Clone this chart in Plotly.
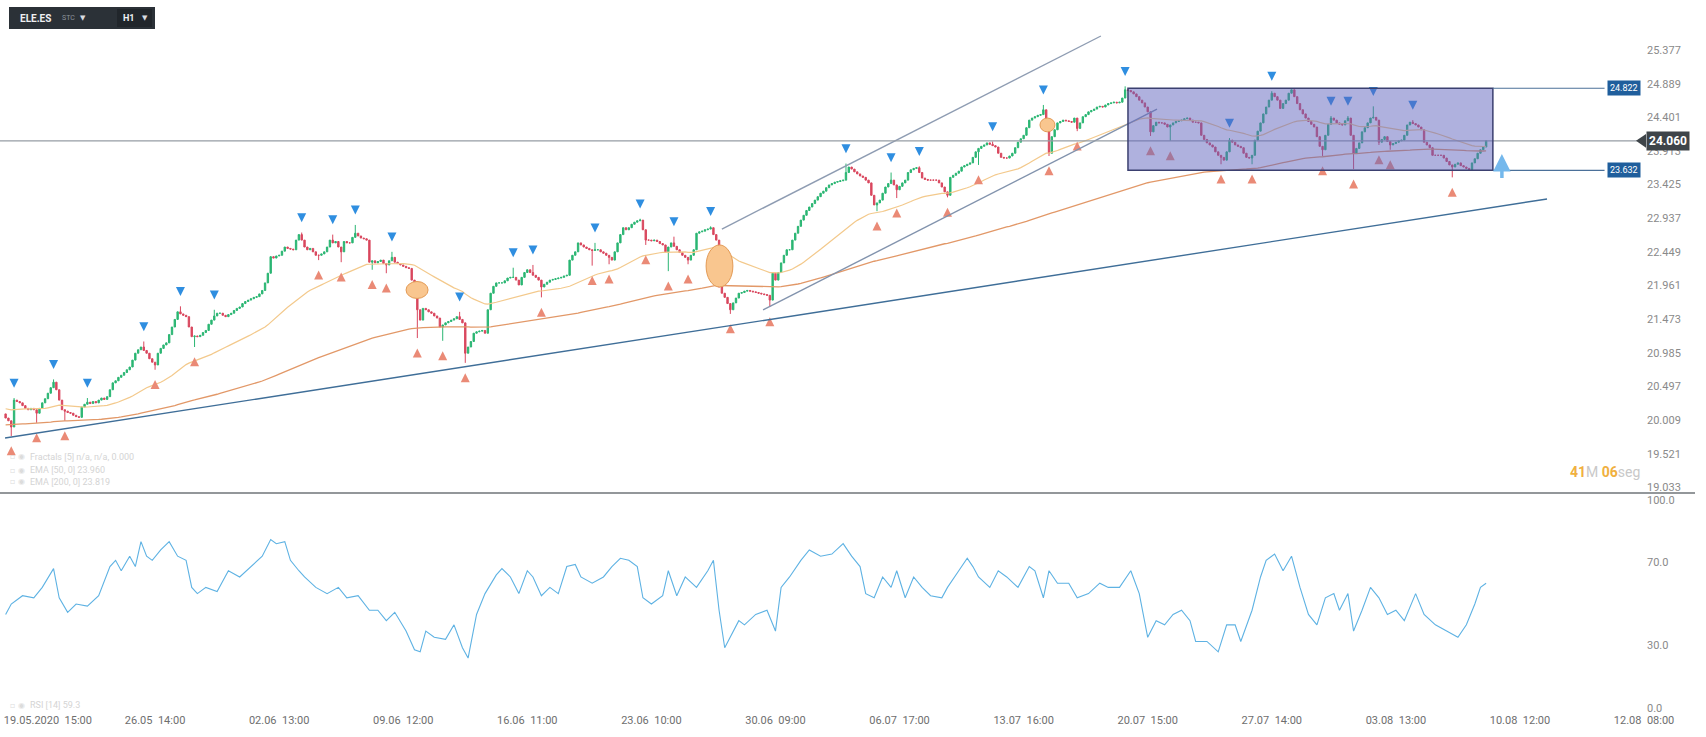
import numpy as np
import plotly.graph_objects as go

# ---------------- data ----------------
close = [
 20.04, 20.00, 19.91, 20.30, 20.28, 20.26, 20.22, 20.18, 20.16, 20.18,
 20.16, 20.11, 20.18, 20.26, 20.32, 20.40, 20.48, 20.56, 20.45, 20.30,
 20.16, 20.14, 20.12, 20.11, 20.08, 20.06, 20.05, 20.20, 20.24, 20.27,
 20.25, 20.28, 20.26, 20.30, 20.33, 20.31, 20.35, 20.45, 20.55, 20.58,
 20.63, 20.66, 20.70, 20.74, 20.78, 20.88, 20.98, 21.03, 21.07, 21.02,
 20.98, 20.90, 20.85, 20.81, 20.98, 21.05, 21.10, 21.13, 21.25, 21.36,
 21.47, 21.58, 21.55, 21.53, 21.51, 21.36, 21.22, 21.23, 21.22, 21.24,
 21.28, 21.31, 21.40, 21.46, 21.52, 21.56, 21.56, 21.53, 21.51, 21.54,
 21.56, 21.60, 21.63, 21.65, 21.70, 21.73, 21.75, 21.77, 21.79, 21.80,
 21.84, 21.89, 22.00, 22.14, 22.38, 22.36, 22.39, 22.40, 22.46, 22.52,
 22.50, 22.49, 22.48, 22.62, 22.70, 22.62, 22.52, 22.48, 22.50, 22.45,
 22.40, 22.40, 22.42, 22.45, 22.52, 22.62, 22.58, 22.60, 22.52, 22.45,
 22.60, 22.58, 22.58, 22.66, 22.72, 22.68, 22.65, 22.64, 22.62, 22.30,
 22.32, 22.29, 22.31, 22.33, 22.28, 22.26, 22.32, 22.37, 22.30, 22.28,
 22.26, 22.24, 22.22, 22.21, 22.04, 22.01, 21.61, 21.46, 21.63, 21.61,
 21.58, 21.56, 21.52, 21.49, 21.36, 21.39, 21.42, 21.44, 21.46, 21.48,
 21.51, 21.47, 21.42, 20.98, 21.07, 21.15, 21.27, 21.29, 21.30, 21.31,
 21.27, 21.61, 21.85, 21.95, 22.00, 22.00, 22.00, 22.03, 22.07, 22.08,
 22.08, 22.04, 21.97, 22.08, 22.15, 22.19, 22.15, 22.11, 22.08, 22.04,
 21.94, 21.98, 22.01, 22.04, 22.05, 22.06, 22.07, 22.08, 22.10, 22.11,
 22.33, 22.40, 22.45, 22.58, 22.55, 22.52, 22.50, 22.48, 22.47, 22.48,
 22.48, 22.45, 22.43, 22.40, 22.37, 22.33, 22.45, 22.58, 22.70, 22.80,
 22.77, 22.80, 22.85, 22.88, 22.90, 22.91, 22.77, 22.62, 22.62, 22.61,
 22.62, 22.60, 22.57, 22.55, 22.45, 22.52, 22.58, 22.53, 22.48, 22.44,
 22.40, 22.37, 22.33, 22.40, 22.48, 22.72, 22.74, 22.75, 22.77, 22.78,
 22.80, 22.70, 22.62, 21.94, 21.85, 21.79, 21.70, 21.61, 21.71, 21.78,
 21.85, 21.86, 21.88, 21.89, 21.88, 21.87, 21.86, 21.85, 21.84, 21.83,
 21.82, 21.75, 22.14, 22.04, 22.15, 22.29, 22.40, 22.48, 22.48, 22.62,
 22.72, 22.82, 22.91, 22.98, 23.05, 23.10, 23.15, 23.20, 23.25, 23.30,
 23.33, 23.38, 23.42, 23.44, 23.46, 23.47, 23.48, 23.49, 23.60, 23.68,
 23.65, 23.61, 23.58, 23.55, 23.53, 23.49, 23.45, 23.27, 23.13, 23.16,
 23.20, 23.30, 23.39, 23.44, 23.49, 23.42, 23.35, 23.40, 23.45, 23.49,
 23.60, 23.64, 23.66, 23.67, 23.60, 23.52, 23.50, 23.49, 23.49, 23.49,
 23.49, 23.45, 23.39, 23.32, 23.27, 23.53, 23.56, 23.59, 23.62, 23.68,
 23.70, 23.72, 23.74, 23.82, 23.90, 23.95, 23.98, 24.00, 24.03, 24.01,
 23.99, 23.97, 23.88, 23.82, 23.81, 23.81, 23.84, 23.88, 23.96, 24.04,
 24.09, 24.14, 24.25, 24.36, 24.39, 24.41, 24.43, 24.44, 24.51, 24.29,
 23.88, 24.12, 24.22, 24.32, 24.34, 24.36, 24.35, 24.34, 24.33, 24.39,
 24.24, 24.32, 24.41, 24.44, 24.48, 24.50, 24.52, 24.55, 24.56, 24.55,
 24.58, 24.60, 24.61, 24.62, 24.61, 24.62, 24.68, 24.80, 24.79, 24.77,
 24.74, 24.70, 24.65, 24.61, 24.55, 24.48, 24.19, 24.28, 24.33, 24.32,
 24.32, 24.30, 24.26, 24.29, 24.32, 24.34, 24.35, 24.36, 24.38, 24.39,
 24.36, 24.33, 24.33, 24.32, 24.14, 24.08, 24.03, 24.00, 23.97, 23.90,
 23.85, 23.82, 23.78, 23.90, 24.07, 24.04, 24.00, 23.98, 23.96, 23.88,
 23.82, 23.81, 23.85, 24.07, 24.20, 24.32, 24.45, 24.55, 24.65, 24.75,
 24.70, 24.65, 24.53, 24.60, 24.65, 24.75, 24.80, 24.70, 24.60, 24.51,
 24.45, 24.39, 24.34, 24.30, 24.26, 24.12, 23.98, 23.93, 24.14, 24.30,
 24.39, 24.36, 24.32, 24.30, 24.29, 24.35, 24.39, 24.14, 23.88, 23.95,
 24.03, 24.19, 24.25, 24.32, 24.39, 24.40, 24.36, 24.04, 24.08, 24.12,
 24.05, 24.00, 24.02, 24.04, 24.06, 24.07, 24.14, 24.29, 24.33, 24.31,
 24.29, 24.26, 24.22, 24.04, 24.00, 23.96, 23.85, 23.85, 23.85, 23.85,
 23.81, 23.76, 23.71, 23.68, 23.72, 23.74, 23.70, 23.68, 23.66, 23.64,
 23.74, 23.80, 23.88, 23.93, 23.97, 24.06,
]
first_open = 20.10

# fractal highs / lows (bar index, price)
up_idx = [3, 17, 29, 49, 62, 74, 105, 116, 124, 137, 161, 180, 187, 209, 225, 237, 250,
          298, 314, 324, 350, 368, 397, 434, 449, 470, 476, 485, 499]
up_val = [20.33, 20.60, 20.33, 21.15, 21.66, 21.61, 22.73, 22.70, 22.84, 22.45, 21.58, 22.22,
          22.26, 22.58, 22.93, 22.67, 22.82, 23.73, 23.60, 23.69, 24.05, 24.58, 24.85, 24.10,
          24.78, 24.42, 24.42, 24.56, 24.36]
dn_idx = [2, 11, 21, 53, 67, 111, 119, 130, 135, 146, 155, 163, 190, 208, 214, 227, 235, 242,
          257, 271, 309, 316, 334, 345, 370, 380, 406, 413, 431, 442, 467, 478, 487, 491, 513]
dn_val = [19.78, 19.97, 20.00, 20.74, 21.07, 22.33, 22.30, 22.19, 22.14, 21.20, 21.16, 20.84,
          21.79, 22.25, 22.27, 22.55, 22.17, 22.27, 21.55, 21.65, 23.04, 23.23, 23.24, 23.71,
          23.84, 24.20, 24.13, 24.06, 23.72, 23.72, 23.84, 23.65, 24.00, 23.93, 23.53]

ema50_seed = 20.18
ema200_seed = 19.94

# RSI(14) (bar index, value)
rsi_idx = [0, 2, 6, 10, 13, 17, 19, 22, 25, 29,
           33, 37, 39, 41, 44, 46, 48, 50, 52, 55,
           58, 61, 64, 66, 68, 71, 75, 79, 83, 87,
           91, 94, 96, 99, 101, 104, 106, 110, 114, 118,
           121, 125, 129, 132, 135, 138, 142, 145, 147, 149,
           152, 156, 159, 162, 164, 167, 170, 174, 176, 179,
           182, 185, 187, 190, 193, 196, 199, 202, 204, 208,
           212, 215, 218, 221, 224, 226, 229, 233, 235, 238,
           241, 245, 249, 251, 253, 255, 257, 260, 262, 266,
           270, 273, 275, 278, 282, 285, 289, 293, 297, 300,
           303, 305, 308, 311, 314, 316, 319, 322, 325, 328,
           332, 334, 338, 341, 343, 345, 349, 352, 355, 359,
           363, 365, 368, 370, 373, 377, 380, 384, 388, 391,
           395, 399, 402, 405, 408, 411, 414, 417, 420, 422,
           426, 430, 433, 436, 438, 442, 445, 447, 450, 453,
           456, 459, 462, 465, 468, 471, 473, 476, 478, 481,
           484, 487, 490, 493, 496, 500, 503, 507, 511, 515,
           518, 521, 523, 525]
rsi_val = [45, 50, 54, 53, 58, 67, 53, 46, 50, 49,
           54, 68, 71, 66, 73, 68, 80, 73, 71, 76,
           80, 73, 71, 58, 55, 58, 56, 66, 63, 68,
           73, 81, 79, 80, 71, 66, 63, 58, 55, 58,
           53, 54, 47, 47, 42, 46, 37, 28, 27, 37,
           34, 33, 40, 29, 24, 45, 55, 64, 67, 63,
           55, 66, 63, 54, 58, 55, 68, 69, 63, 60,
           63, 68, 72, 71, 68, 53, 50, 54, 66, 54,
           63, 58, 66, 71, 47, 29, 34, 42, 40, 45,
           47, 37, 58, 63, 71, 76, 73, 74, 79, 73,
           68, 55, 53, 63, 58, 66, 53, 63, 58, 54,
           53, 58, 66, 72, 68, 63, 58, 66, 63, 58,
           68, 66, 53, 66, 60, 60, 53, 55, 60, 58,
           58, 66, 55, 34, 42, 40, 45, 47, 42, 32,
           32, 27, 40, 40, 32, 47, 63, 71, 74, 66,
           73, 58, 45, 40, 53, 55, 47, 55, 37, 47,
           58, 53, 45, 47, 42, 55, 45, 40, 37, 34,
           40, 50, 58, 60]

price_ticks = [19.033, 19.521, 20.009, 20.497, 20.985, 21.473, 21.961, 22.449,
               22.937, 23.425, 23.913, 24.401, 24.889, 25.377]
rsi_ticks = [0, 30, 70, 100]
rsi_tick_text = ["0.0", "30.0", "70.0", "100.0"]
time_tick_idx = [15, 53, 97, 141, 185, 229, 273, 317, 361, 405, 449, 493, 537, 581]
time_tick_text = ["19.05.2020  15:00", "26.05  14:00", "02.06  13:00", "09.06  12:00",
                  "16.06  11:00", "23.06  10:00", "30.06  09:00", "06.07  17:00",
                  "13.07  16:00", "20.07  15:00", "27.07  14:00", "03.08  13:00",
                  "10.08  12:00", "12.08  08:00"]

last_price = 24.060
box_top, box_bottom = 24.822, 23.632
box_x = [398.0, 527.4]
support_line = ([-0.2, 546.6], [19.75, 23.217])
channel_upper = ([254.0, 388.4], [22.781, 25.58])
channel_lower = ([268.6, 408.3], [21.607, 24.52])
ellipses = [([142.0, 149.8], [21.774, 22.02]),
            ([248.4, 257.9], [21.94, 22.55]),
            ([366.8, 372.1], [24.19, 24.39])]
label_line_end = 567.0
arrow_x = 530.6
arrow_y = [23.50, 23.87]

# ---------------- derived ----------------
n = len(close)
xs = list(range(n))
opens = [first_open] + close[:-1]
highs = [max(o, c) for o, c in zip(opens, close)]
lows = [min(o, c) for o, c in zip(opens, close)]
for j, v in zip(up_idx, up_val):
    highs[j] = max(highs[j], v)
for j, v in zip(dn_idx, dn_val):
    lows[j] = min(lows[j], v)


def ema(vals, period, seed):
    a = 2.0 / (period + 1)
    out, e = [], seed
    for v in vals:
        e = a * v + (1 - a) * e
        out.append(e)
    return out


ema50 = ema(close, 50, ema50_seed)
ema200 = ema(close, 200, ema200_seed)

# ---------------- figure ----------------
W, H = 1706, 737
PLOT_R = 1646
main_dom = [(712 - 493) / 712, 1.0]
rsi_dom = [0.0, (712 - 495) / 712]
xr = [-1.99, 581.7]

fig = go.Figure()
fig.add_trace(go.Candlestick(
    x=xs, open=opens, high=highs, low=lows, close=close,
    increasing=dict(line=dict(color="#2bb673", width=1), fillcolor="#2bb673"),
    decreasing=dict(line=dict(color="#d9475e", width=1), fillcolor="#d9475e"),
    xaxis="x", yaxis="y", showlegend=False, hoverinfo="skip"))
fig.add_trace(go.Scatter(x=xs, y=ema50, mode="lines", line=dict(color="#f3c98c", width=1.2),
                         xaxis="x", yaxis="y", showlegend=False, hoverinfo="skip"))
fig.add_trace(go.Scatter(x=xs, y=ema200, mode="lines", line=dict(color="#e29868", width=1.3),
                         xaxis="x", yaxis="y", showlegend=False, hoverinfo="skip"))

off = 0.15
fig.add_trace(go.Scatter(x=up_idx, y=[highs[j] + off for j in up_idx], mode="markers",
                         marker=dict(symbol="arrow-down", size=9, color="#2f8ee0"),
                         xaxis="x", yaxis="y", showlegend=False, hoverinfo="skip"))
fig.add_trace(go.Scatter(x=dn_idx, y=[lows[j] - off for j in dn_idx], mode="markers",
                         marker=dict(symbol="arrow-up", size=9, color="#ea8a76"),
                         xaxis="x", yaxis="y", showlegend=False, hoverinfo="skip"))

fig.add_trace(go.Scatter(x=rsi_idx, y=rsi_val, mode="lines", line=dict(color="#5eb2e3", width=1.1),
                         xaxis="x2", yaxis="y2", showlegend=False, hoverinfo="skip"))

shapes = []
for (lx, ly), col in [(support_line, "#3f6e98"), (channel_upper, "#8e9cb2"), (channel_lower, "#8293ad")]:
    shapes.append(dict(type="line", xref="x", yref="y", x0=lx[0], x1=lx[1], y0=ly[0], y1=ly[1],
                       line=dict(color=col, width=1.4), layer="above"))
for (ex, ey) in ellipses:
    shapes.append(dict(type="circle", xref="x", yref="y", x0=ex[0], x1=ex[1], y0=ey[0], y1=ey[1],
                       fillcolor="#f9c68f", line=dict(color="#e39a55", width=1), layer="above"))
shapes.append(dict(type="line", xref="paper", yref="y", x0=0, x1=1642 / PLOT_R, y0=last_price, y1=last_price,
                   line=dict(color="#969da4", width=1.3), layer="above"))
shapes.append(dict(type="rect", xref="x", yref="y", x0=box_x[0], x1=box_x[1], y0=box_bottom, y1=box_top,
                   fillcolor="rgba(95,100,190,0.5)", line=dict(color="#3b4070", width=1.5), layer="above"))
for yv in (box_top, box_bottom):
    shapes.append(dict(type="line", xref="x", yref="y", x0=box_x[1], x1=label_line_end, y0=yv, y1=yv,
                       line=dict(color="#4b7099", width=1.2), layer="above"))
shapes.append(dict(type="line", xref="paper", yref="paper", x0=0, x1=1695 / PLOT_R,
                   y0=main_dom[0], y1=main_dom[0], line=dict(color="#6f7479", width=1.3)))
shapes.append(dict(type="path", xref="paper", yref="y",
                   path=f"M {1636 / PLOT_R},{last_price} L {1646 / PLOT_R},{last_price + 0.1} L {1646 / PLOT_R},{last_price - 0.1} Z",
                   fillcolor="#3e4449", line=dict(width=0)))
shapes.append(dict(type="rect", xref="paper", yref="paper", x0=9 / PLOT_R, x1=155 / PLOT_R,
                   y0=(712 - 29) / 712, y1=(712 - 7) / 712, fillcolor="#2b3137", line=dict(width=0)))
shapes.append(dict(type="rect", xref="paper", yref="paper", x0=117 / PLOT_R, x1=152 / PLOT_R,
                   y0=(712 - 27) / 712, y1=(712 - 9) / 712, fillcolor="#21262b", line=dict(width=0)))

ann = []
ann.append(dict(x=1646 / PLOT_R, y=last_price, xref="paper", yref="y", text="<b>24.060</b>", showarrow=False,
                xanchor="left", yanchor="middle", bgcolor="#3e4449", font=dict(color="white", size=12, family="Roboto"),
                borderpad=2))
for yv, txt in [(box_top, "24.822"), (box_bottom, "23.632")]:
    ann.append(dict(x=1624 / PLOT_R, y=yv, xref="paper", yref="y", text=txt, showarrow=False,
                    xanchor="center", yanchor="middle", bgcolor="#1f5e9c",
                    font=dict(color="white", size=9, family="Roboto"), borderpad=2))
ann.append(dict(x=arrow_x, y=arrow_y[1], ax=arrow_x, ay=arrow_y[0], xref="x", yref="y", axref="x", ayref="y",
                showarrow=True, arrowhead=2, arrowsize=1, arrowwidth=3.5, arrowcolor="#74b8ec", text=""))
ann.append(dict(x=1642 / PLOT_R, y=(712 - 472) / 712, xref="paper", yref="paper", showarrow=False,
                xanchor="right", yanchor="middle",
                text="<span style='color:#f0b040'><b>41</b></span><span style='color:#c8c8c8'>M </span>"
                     "<span style='color:#f0b040'><b>06</b></span><span style='color:#c8c8c8'>seg</span>",
                font=dict(size=14, family="Roboto")))
for yy, txt in [(457, "Fractals [5] n/a, n/a, 0.000"), (470, "EMA [50, 0] 23.960"), (482, "EMA [200, 0] 23.819"),
                (705, "RSI [14] 59.3")]:
    ann.append(dict(x=28 / PLOT_R, y=(712 - yy) / 712, xref="paper", yref="paper", text=txt, showarrow=False,
                    xanchor="left", yanchor="middle", font=dict(size=9, color="#d4d4d4", family="Roboto")))
    ann.append(dict(x=8 / PLOT_R, y=(712 - yy) / 712, xref="paper", yref="paper", text="▫ ◉", showarrow=False,
                    xanchor="left", yanchor="middle", font=dict(size=8, color="#dcdcdc", family="DejaVu Sans")))
ann.append(dict(x=18 / PLOT_R, y=(712 - 18) / 712, xref="paper", yref="paper", text="<b>ELE.ES</b>", showarrow=False,
                xanchor="left", yanchor="middle", font=dict(size=10, color="#eef0f2", family="Roboto")))
ann.append(dict(x=60 / PLOT_R, y=(712 - 18) / 712, xref="paper", yref="paper", text="STC", showarrow=False,
                xanchor="left", yanchor="middle", font=dict(size=7, color="#8b939b", family="Roboto")))
ann.append(dict(x=78 / PLOT_R, y=(712 - 18) / 712, xref="paper", yref="paper", text="▼", showarrow=False,
                xanchor="left", yanchor="middle", font=dict(size=7, color="#d8dce0", family="DejaVu Sans")))
ann.append(dict(x=121 / PLOT_R, y=(712 - 18) / 712, xref="paper", yref="paper", text="<b>H1</b>", showarrow=False,
                xanchor="left", yanchor="middle", font=dict(size=9, color="#eef0f2", family="Roboto")))
ann.append(dict(x=140 / PLOT_R, y=(712 - 18) / 712, xref="paper", yref="paper", text="▼", showarrow=False,
                xanchor="left", yanchor="middle", font=dict(size=7, color="#d8dce0", family="DejaVu Sans")))

fig.update_layout(
    width=W, height=H, margin=dict(l=0, r=W - PLOT_R, t=0, b=25),
    paper_bgcolor="white", plot_bgcolor="white",
    shapes=shapes, annotations=ann, showlegend=False,
    xaxis=dict(domain=[0, 1], range=xr, anchor="y", showgrid=False, zeroline=False, showticklabels=False,
               rangeslider=dict(visible=False), showline=False, fixedrange=True),
    xaxis2=dict(domain=[0, 1], range=xr, anchor="y2", showgrid=False, zeroline=False, showline=False,
                tickmode="array", tickvals=time_tick_idx,
                ticktext=[t.replace(" ", "\u00a0") for t in time_tick_text],
                tickfont=dict(size=11, color="#6e6e6e", family="Roboto"), ticks=""),
    yaxis=dict(domain=main_dom, range=[18.953, 26.102], side="right", showgrid=False, zeroline=False,
               tickmode="array", tickvals=price_ticks, ticktext=[f"{v:.3f}" for v in price_ticks],
               tickfont=dict(size=11, color="#8a8a8a", family="Roboto"), ticks="", anchor="x"),
    yaxis2=dict(domain=rsi_dom, range=[-1.9, 102.4], side="right", showgrid=False, zeroline=False,
                tickmode="array", tickvals=rsi_ticks, ticktext=rsi_tick_text,
                tickfont=dict(size=11, color="#8a8a8a", family="Roboto"), ticks="", anchor="x2"),
)

fig.write_html("out.html", config={"displayModeBar": False},
               post_script="document.body.style.margin='0px';document.body.style.overflow='hidden';")
